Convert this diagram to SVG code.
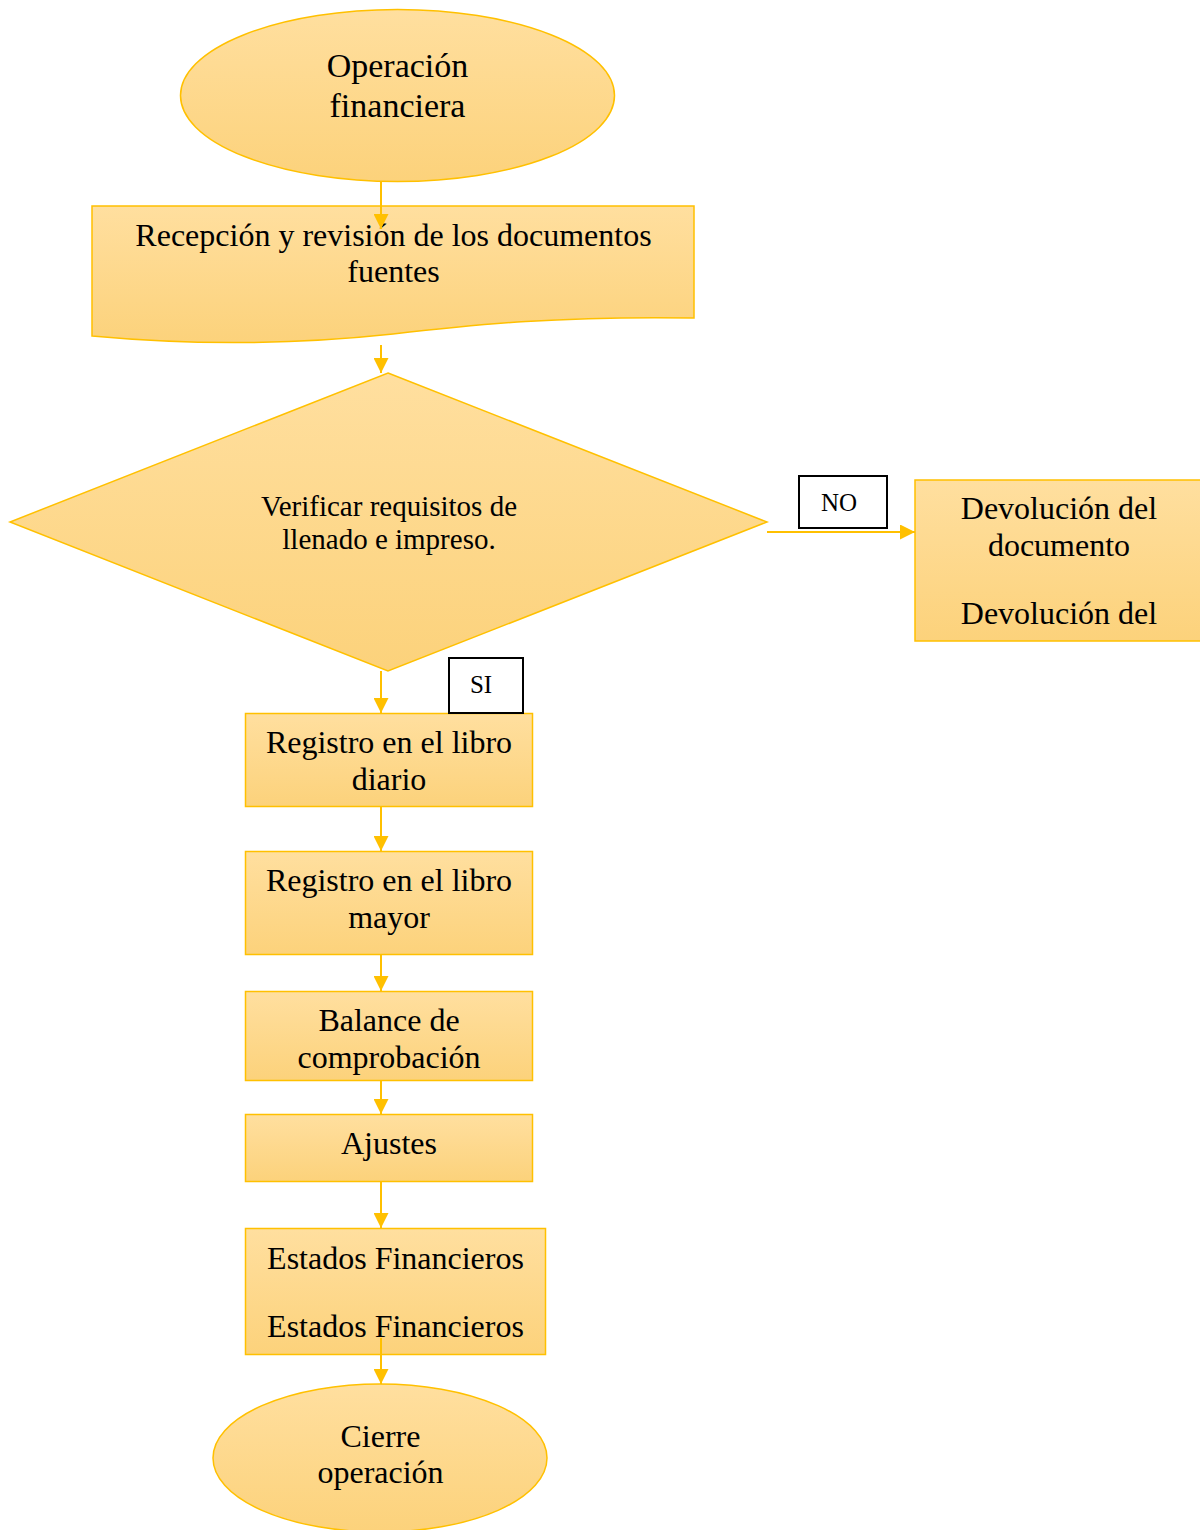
<svg xmlns="http://www.w3.org/2000/svg" width="1200" height="1530" viewBox="0 0 1200 1530">
  <defs>
    <linearGradient id="fillGrad" x1="0" y1="0" x2="0" y2="1">
      <stop offset="0" stop-color="#FFDF9F"/>
      <stop offset="1" stop-color="#FCD27B"/>
    </linearGradient>
    <marker id="arrow" markerUnits="userSpaceOnUse" markerWidth="15" markerHeight="15" refX="15" refY="7.5" orient="auto">
      <path d="M0,0 L15,7.5 L0,15 Z" fill="#FFC000"/>
    </marker>
  </defs>
  <style>
    .shape { fill: url(#fillGrad); stroke: #FFC000; stroke-width: 1.5; }
    .t { font-family: "Liberation Serif", "Times New Roman", serif; fill: #000; text-anchor: middle; }
    .conn { stroke: #FFC000; stroke-width: 2; fill: none; marker-end: url(#arrow); }
  </style>
  <rect width="1200" height="1530" fill="#FFFFFF"/>

  <g id="n-inicio">
    <ellipse class="shape" cx="397.5" cy="95.5" rx="217" ry="86"/>
    <text class="t" x="397.5" y="77" font-size="34">Operación</text>
    <text class="t" x="397.5" y="117" font-size="34">financiera</text>
  </g>

  <g id="n-recepcion">
    <path class="shape" d="M92,206 H694 V318 C560,316 480,324 393,334 C300,344 200,346 92,336 Z"/>
    <text class="t" x="393.5" y="246" font-size="32">Recepción y revisión de los documentos</text>
    <text class="t" x="393.5" y="282" font-size="32">fuentes</text>
  </g>

  <g id="n-verificar">
    <polygon class="shape" points="388,373 767,522 388,671 10,522"/>
    <text class="t" x="389" y="516" font-size="29">Verificar requisitos de</text>
    <text class="t" x="389" y="549" font-size="29">llenado e impreso.</text>
  </g>

  <g id="n-devolucion">
    <rect class="shape" x="915" y="480" width="290" height="161"/>
    <text class="t" x="1059" y="519" font-size="32">Devolución del</text>
    <text class="t" x="1059" y="556" font-size="32">documento</text>
    <text class="t" x="1059" y="624" font-size="32">Devolución del</text>
  </g>

  <g id="n-diario">
    <rect class="shape" x="245.5" y="713.5" width="287" height="93"/>
    <text class="t" x="389" y="753" font-size="32">Registro en el libro</text>
    <text class="t" x="389" y="790" font-size="32">diario</text>
  </g>

  <g id="n-mayor">
    <rect class="shape" x="245.5" y="851.5" width="287" height="103"/>
    <text class="t" x="389" y="891" font-size="32">Registro en el libro</text>
    <text class="t" x="389" y="928" font-size="32">mayor</text>
  </g>

  <g id="n-balance">
    <rect class="shape" x="245.5" y="991.5" width="287" height="89"/>
    <text class="t" x="389" y="1031" font-size="32">Balance de</text>
    <text class="t" x="389" y="1068" font-size="32">comprobación</text>
  </g>

  <g id="n-ajustes">
    <rect class="shape" x="245.5" y="1114.5" width="287" height="67"/>
    <text class="t" x="389" y="1154" font-size="32">Ajustes</text>
  </g>

  <g id="n-estados">
    <rect class="shape" x="245.5" y="1228.5" width="300" height="126"/>
    <text class="t" x="395.5" y="1269" font-size="32">Estados Financieros</text>
    <text class="t" x="395.5" y="1337" font-size="32">Estados Financieros</text>
  </g>

  <g id="n-cierre">
    <ellipse class="shape" cx="380" cy="1458" rx="167" ry="74"/>
    <text class="t" x="380.5" y="1447" font-size="32">Cierre</text>
    <text class="t" x="380.5" y="1483" font-size="32">operación</text>
  </g>

  <g id="connectors">
    <line class="conn" x1="381" y1="181" x2="381" y2="229"/>
    <line class="conn" x1="381" y1="345" x2="381" y2="373"/>
    <line class="conn" x1="767" y1="532" x2="915" y2="532"/>
    <line class="conn" x1="381" y1="671" x2="381" y2="713"/>
    <line class="conn" x1="381" y1="807" x2="381" y2="851"/>
    <line class="conn" x1="381" y1="955" x2="381" y2="991"/>
    <line class="conn" x1="381" y1="1081" x2="381" y2="1114"/>
    <line class="conn" x1="381" y1="1181" x2="381" y2="1228"/>
    <line class="conn" x1="381" y1="1338" x2="381" y2="1384"/>
  </g>

  <g id="lbl-no">
    <rect x="799" y="476" width="88" height="52" fill="#FFFFFF" stroke="#000" stroke-width="2"/>
    <text class="t" x="839" y="511" font-size="25">NO</text>
  </g>
  <g id="lbl-si">
    <rect x="449" y="658" width="74" height="55" fill="#FFFFFF" stroke="#000" stroke-width="2"/>
    <text class="t" x="481" y="693" font-size="25">SI</text>
  </g>
</svg>
